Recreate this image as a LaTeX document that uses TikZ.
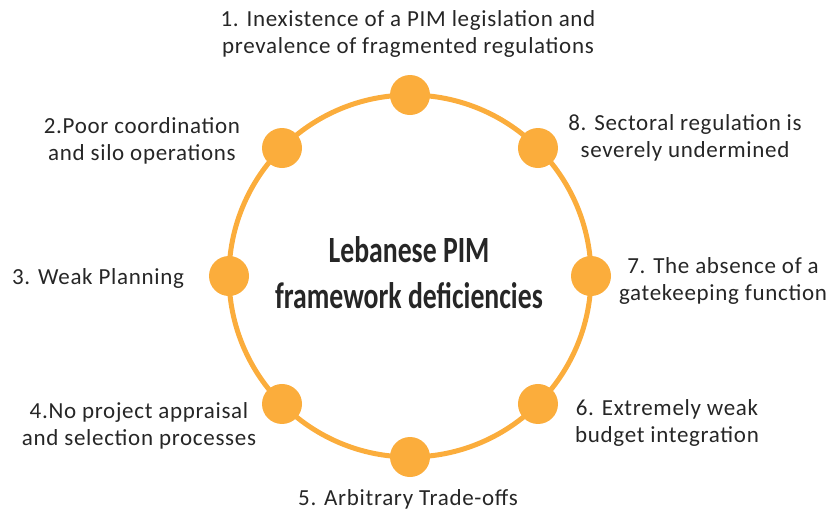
\documentclass[tikz,border=0pt]{standalone}
\usepackage{fontspec}
\setmainfont{Carlito}[LetterSpace=3]
\newfontfamily\titlefont{Carlito}
\definecolor{ringorange}{RGB}{251,173,60}
\definecolor{labelgray}{RGB}{38,38,38}
\begin{document}
\begin{tikzpicture}[x=1pt,y=-1pt,line join=round,line cap=round]
	\tikzset{every node/.style={text=labelgray,align=center,font=\fontsize{23}{27}\selectfont},
		dot/.style={circle,fill=ringorange,minimum size=40pt,inner sep=0pt}}
	\useasboundingbox (0,0) rectangle (830,512);
	\draw[ringorange,line width=5pt] (410,276) circle (181);
	\foreach \i in {1,...,8}
	\node[dot] (d\i) at ({410+181*cos(45*\i+45)},{276-181*sin(45*\i+45)}) {};
	\node[font=\titlefont\bfseries\fontsize{37}{46}\selectfont,xscale=0.75] (title) at (409,273) {Lebanese PIM\\framework deficiencies};
	\node (l1) at (408,34) {1. Inexistence of a PIM legislation and\\prevalence of fragmented regulations};
	\node (l2) at (142,141) {2.Poor coordination\\and silo operations};
	\node (l3) at (98,278) {3. Weak Planning};
	\node (l4) at (139,426) {4.No project appraisal\\and selection processes};
	\node (l5) at (408,499) {5. Arbitrary Trade-offs};
	\node (l6) at (667,423) {6. Extremely weak\\budget integration};
	\node (l7) at (723,281) {7. The absence of a\\gatekeeping function};
	\node (l8) at (685,138) {8. Sectoral regulation is\\severely undermined};
\end{tikzpicture}
\end{document}
